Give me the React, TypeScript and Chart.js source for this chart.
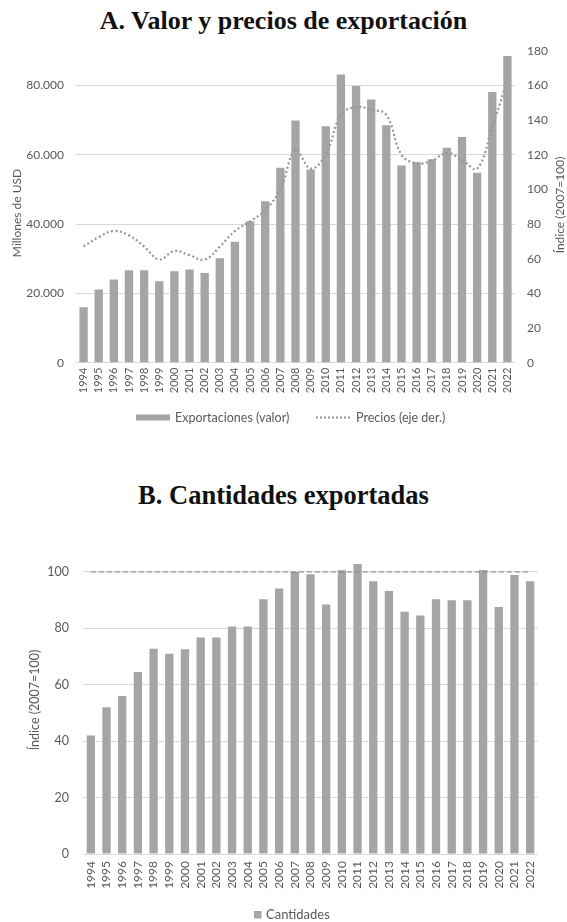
import React, { useEffect, useRef } from 'react';
import { Chart, registerables } from 'chart.js';

Chart.register(...registerables);

const years = ['1994', '1995', '1996', '1997', '1998', '1999', '2000', '2001', '2002', '2003', '2004', '2005', '2006', '2007', '2008', '2009', '2010', '2011', '2012', '2013', '2014', '2015', '2016', '2017', '2018', '2019', '2020', '2021', '2022'];

// Panel A: export value (millions USD) and price index (2007=100)
const exportValue = [16000, 21100, 24000, 26700, 26700, 23500, 26400, 26900, 25900, 30100, 34900, 40800, 46600, 56200, 69900, 55700, 68200, 83100, 79800, 75900, 68500, 56900, 57800, 58700, 62000, 65100, 54800, 78100, 88500];
const priceIndex = [67, 72.5, 76, 73.5, 67, 59.5, 64.5, 62, 59.5, 67, 76, 81.5, 88, 100, 122.5, 112, 120, 143, 147.5, 146, 143, 120, 115, 116.5, 121, 117, 112, 136, 163];
const ticksValueA = [0, 20000, 40000, 60000, 80000];
const ticksPriceA = [0, 20, 40, 60, 80, 100, 120, 140, 160, 180];

// Panel B: quantities index (2007=100)
const quantityIndex = [42, 52, 56, 64.5, 72.8, 71, 72.6, 76.8, 76.8, 80.7, 80.7, 90.3, 94.1, 100, 99.2, 88.5, 100.6, 102.8, 96.7, 93.3, 85.9, 84.6, 90.3, 90, 90, 100.7, 87.6, 98.9, 96.7];
const baseLine = [100, 100, 100, 100, 100, 100, 100, 100, 100, 100, 100, 100, 100, 100, 100, 100, 100, 100, 100, 100, 100, 100, 100, 100, 100, 100, 100, 100, 100];
const ticksB = [0, 20, 40, 60, 80, 100];

const titleA = 'A. Valor y precios de exportación';
const titleB = 'B. Cantidades exportadas';
const labelValue = 'Exportaciones (valor)';
const labelPrice = 'Precios (eje der.)';
const labelQty = 'Cantidades';
const axisUSD = 'Millones de USD';
const axisIndex = 'Índice (2007=100)';

const SANS = 'Lato';
const TEXT = '#595959';
const BAR = '#a5a5a5';
const GRID = '#d9d9d9';

const fmtThousands = (v: number) => String(v).replace(/\B(?=(\d{3})+(?!\d))/g, '.');

function vText(ctx: CanvasRenderingContext2D, text: string, x: number, y: number, size: number) {
  ctx.save();
  ctx.translate(x, y);
  ctx.rotate(-Math.PI / 2);
  ctx.font = `${size}px ${SANS}`;
  ctx.fillStyle = TEXT;
  ctx.textAlign = 'center';
  ctx.textBaseline = 'middle';
  ctx.fillText(text, 0, 0);
  ctx.restore();
}

function hText(ctx: CanvasRenderingContext2D, text: string, x: number, y: number, size: number) {
  ctx.save();
  ctx.font = `${size}px ${SANS}`;
  ctx.fillStyle = TEXT;
  ctx.textAlign = 'left';
  ctx.textBaseline = 'middle';
  ctx.fillText(text, x, y);
  ctx.restore();
}

function ChartA() {
  const ref = useRef<HTMLCanvasElement>(null);
  useEffect(() => {
    const extras = {
      id: 'extrasA',
      afterDraw(chart: any) {
        const ctx = chart.ctx as CanvasRenderingContext2D;
        vText(ctx, axisUSD, 17.5, 213, 12);
        vText(ctx, axisIndex, 560, 205, 12);
        // legend
        ctx.save();
        ctx.fillStyle = BAR;
        ctx.fillRect(136, 414.5, 34, 6);
        ctx.strokeStyle = '#969696';
        ctx.lineWidth = 2;
        ctx.setLineDash([2, 2]);
        ctx.beginPath();
        ctx.moveTo(316, 417.5);
        ctx.lineTo(350, 417.5);
        ctx.stroke();
        ctx.restore();
        hText(ctx, labelValue, 175, 417.5, 12.5);
        hText(ctx, labelPrice, 356, 417.5, 12.5);
      },
    };
    const chart = new Chart(ref.current!, {
      type: 'bar',
      data: {
        labels: years,
        datasets: [
          {
            type: 'line',
            label: labelPrice,
            data: priceIndex,
            yAxisID: 'y1',
            borderColor: '#969696',
            borderWidth: 2.2,
            borderDash: [2, 2.5],
            pointRadius: 0,
            tension: 0.4,
            fill: false,
            order: 0,
          } as any,
          {
            type: 'bar',
            label: labelValue,
            data: exportValue,
            yAxisID: 'y',
            backgroundColor: BAR,
            barPercentage: 0.55,
            categoryPercentage: 1,
            order: 1,
          },
        ],
      },
      options: {
        animation: false,
        responsive: false,
        maintainAspectRatio: false,
        layout: { padding: { top: 50.7, left: 0, right: 0, bottom: 0 } },
        plugins: { legend: { display: false }, tooltip: { enabled: false }, title: { display: false } },
        scales: {
          x: {
            grid: { display: false, drawTicks: false },
            border: { display: false },
            ticks: { maxRotation: 90, minRotation: 90, autoSkip: false, padding: 5, color: TEXT, font: { family: SANS, size: 11 } },
            afterFit: (s: any) => { s.height = 445 - 362.7; s.paddingLeft = 0; s.paddingRight = 0; },
          },
          y: {
            position: 'left',
            min: 0,
            max: 90000,
            ticks: { padding: 12, color: TEXT, font: { family: SANS, size: 12 }, callback: (v: any) => fmtThousands(v) },
            grid: { color: GRID, drawTicks: false },
            border: { display: false },
            afterBuildTicks: (s: any) => { s.ticks = ticksValueA.map((v) => ({ value: v })); },
            afterFit: (s: any) => { s.width = 76; s.paddingTop = 0; s.paddingBottom = 0; },
          },
          y1: {
            position: 'right',
            min: 0,
            max: 180,
            ticks: { padding: 12, color: TEXT, font: { family: SANS, size: 12 } },
            grid: { display: false, drawTicks: false },
            border: { display: false },
            afterBuildTicks: (s: any) => { s.ticks = ticksPriceA.map((v) => ({ value: v })); },
            afterFit: (s: any) => { s.width = 52; s.paddingTop = 0; s.paddingBottom = 0; },
          },
        },
      } as any,
      plugins: [extras],
    });
    return () => chart.destroy();
  }, []);
  return <canvas ref={ref} width={567} height={445} style={{ position: 'absolute', left: 0, top: 0, width: 567, height: 445 }} />;
}

function ChartB() {
  const ref = useRef<HTMLCanvasElement>(null);
  useEffect(() => {
    const extras = {
      id: 'extrasB',
      afterDraw(chart: any) {
        const ctx = chart.ctx as CanvasRenderingContext2D;
        vText(ctx, axisIndex, 35, 230, 12.5);
        ctx.save();
        ctx.fillStyle = BAR;
        ctx.fillRect(254, 441, 7.5, 7.5);
        ctx.restore();
        hText(ctx, labelQty, 266, 444.5, 13);
      },
    };
    const chart = new Chart(ref.current!, {
      type: 'bar',
      data: {
        labels: years,
        datasets: [
          {
            type: 'line',
            label: '100',
            data: baseLine,
            borderColor: '#7f7f7f',
            borderWidth: 1,
            borderDash: [5, 3],
            pointRadius: 0,
            fill: false,
            order: 0,
          } as any,
          {
            type: 'bar',
            label: labelQty,
            data: quantityIndex,
            backgroundColor: BAR,
            barPercentage: 0.53,
            categoryPercentage: 1,
            order: 1,
          },
        ],
      },
      options: {
        animation: false,
        responsive: false,
        maintainAspectRatio: false,
        layout: { padding: { top: 90.7, left: 0, right: 29, bottom: 0 } },
        plugins: { legend: { display: false }, tooltip: { enabled: false }, title: { display: false } },
        scales: {
          x: {
            grid: { display: false, drawTicks: false },
            border: { display: false },
            ticks: { maxRotation: 90, minRotation: 90, autoSkip: false, padding: 7, color: TEXT, font: { family: SANS, size: 12 } },
            afterFit: (s: any) => { s.height = 452 - 384; s.paddingLeft = 0; s.paddingRight = 0; },
          },
          y: {
            position: 'left',
            min: 0,
            max: 104,
            ticks: { padding: 14, color: TEXT, font: { family: SANS, size: 12.5 } },
            grid: { color: GRID, drawTicks: false },
            border: { display: false },
            afterBuildTicks: (s: any) => { s.ticks = ticksB.map((v) => ({ value: v })); },
            afterFit: (s: any) => { s.width = 83; s.paddingTop = 0; s.paddingBottom = 0; },
          },
        },
      } as any,
      plugins: [extras],
    });
    return () => chart.destroy();
  }, []);
  return <canvas ref={ref} width={567} height={452} style={{ position: 'absolute', left: 0, top: 470, width: 567, height: 452 }} />;
}

const titleStyle: React.CSSProperties = {
  position: 'absolute',
  left: 0,
  width: 567,
  textAlign: 'center',
  fontFamily: '"Liberation Serif", serif',
  fontWeight: 'bold',
  fontSize: 26,
  color: '#111',
  lineHeight: '30px',
  margin: 0,
  whiteSpace: 'nowrap',
};

export default function App() {
  return (
    <div style={{ position: 'absolute', left: 0, top: 0, width: 567, height: 922, background: '#fff', overflow: 'hidden' }}>
      <div style={{ ...titleStyle, top: 6 }}>{titleA}</div>
      <ChartA />
      <div style={{ ...titleStyle, top: 480, fontSize: 26.5 }}>{titleB}</div>
      <ChartB />
    </div>
  );
}
